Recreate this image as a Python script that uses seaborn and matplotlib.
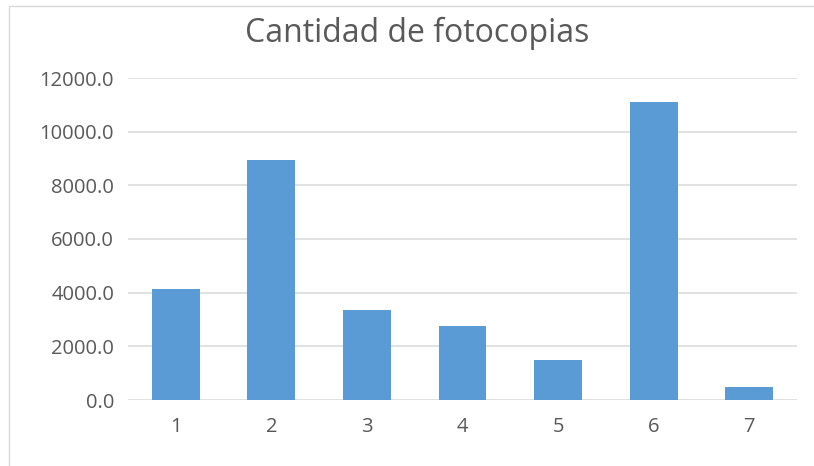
import matplotlib
matplotlib.use("Agg")
import matplotlib.pyplot as plt
import seaborn as sns
import pandas as pd
from matplotlib.patches import Rectangle
from matplotlib.ticker import FuncFormatter, MultipleLocator

categories = ["1", "2", "3", "4", "5", "6", "7"]
values = [4120, 8960, 3340, 2740, 1480, 11090, 490]
title = "Cantidad de fotocopias"

sns.set_style("white")
plt.rcParams['font.family'] = ['Open Sans', 'DejaVu Sans']

df = pd.DataFrame({"cat": categories, "val": values})

fig = plt.figure(figsize=(8.14, 4.66), dpi=100)
ax = fig.add_axes([128/814, 66/466, 669/814, 322/466])

sns.barplot(data=df, x="cat", y="val", color="#5B9BD5", width=0.5,
            saturation=1, edgecolor="none", ax=ax, zorder=3)

ax.set_ylim(0, 12000)
ax.set_xlim(-0.5, 6.5)
ax.yaxis.set_major_locator(MultipleLocator(2000))
ax.yaxis.set_major_formatter(FuncFormatter(lambda v, p: f"{v:.1f}"))
ax.grid(axis="y", color="#D9D9D9", linewidth=1.1, zorder=0)
ax.set_axisbelow(True)
for s in ax.spines.values():
    s.set_visible(False)
ax.set_xlabel("")
ax.set_ylabel("")
ax.tick_params(axis="both", length=0, labelsize=14.5, labelcolor="#595959")
ax.tick_params(axis="y", pad=10)
ax.tick_params(axis="x", pad=12)

fig.text(417.5/814, 1 - 42.5/466, title, ha="center", va="baseline",
         fontsize=23, color="#595959")

fig.patches.append(Rectangle((9/814, -0.1), 1.2, 1.1 - 6/466,
                             transform=fig.transFigure, fill=False,
                             edgecolor="#D9D9D9", linewidth=1.0))

fig.savefig("out.png", dpi=100)
